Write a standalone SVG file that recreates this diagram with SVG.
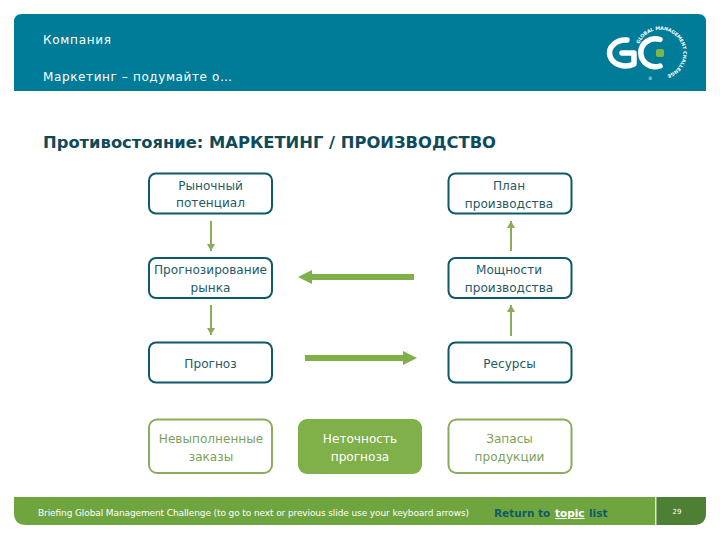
<svg xmlns="http://www.w3.org/2000/svg" width="720" height="540" viewBox="0 0 720 540">
<style>
text{font-family:"DejaVu Sans","Noto Sans",sans-serif}
.hd{font-size:12px;fill:#fff}
.nb{fill:#fff;stroke:#0f5a69;stroke-width:2}
.ng{fill:#fff;stroke:#8aac5c;stroke-width:2}
.t{font-size:12.100px;fill:#245a68;text-anchor:middle}
.tg{font-size:12.100px;fill:#7d9f5a;text-anchor:middle}
.tw{font-size:12.100px;fill:#fff;text-anchor:middle}
.thin{stroke:#8aac5c;stroke-width:2;fill:none;marker-end:url(#h)}
</style>
<defs>
<marker id="h" markerUnits="userSpaceOnUse" markerWidth="8" markerHeight="8" refX="7" refY="4" orient="auto"><path d="M0 0L7 4L0 8z" fill="#8aac5c"/></marker>
<path id="ring" d="M639 44A23 23 0 1 1 664 75.600"/>
</defs>
<g id="header">
<path d="M22 14H698Q706 14 706 22V91H14V22Q14 14 22 14z" fill="#007c98"/>
<text class="hd" x="43" y="44" textLength="68">Компания</text>
<text class="hd" x="43" y="81" textLength="189">Маркетинг – подумайте о…</text>
</g>
<g id="logo" fill="none" stroke="#fff" stroke-linecap="round">
<path d="M627 40A16 13 0 1 0 634 64V53H622" stroke-width="5.500" stroke-linejoin="round"/>
<path d="M660 39.500A14.500 14 0 1 0 660 66" stroke-width="5.500"/>
<rect x="656" y="49" width="8" height="8" rx="2" fill="#7ab648" stroke="none"/>
<text font-size="4.800" font-weight="bold" fill="#fff" stroke="none"><textPath href="#ring" textLength="92">GLOBAL MANAGEMENT CHALLENGE</textPath></text>
<text x="648" y="79.500" font-size="4.500" fill="#fff" stroke="none">®</text>
</g>
<text id="title" x="43" y="148" font-size="15px" font-weight="bold" fill="#0f4a5a" textLength="453" lengthAdjust="spacingAndGlyphs">Противостояние: МАРКЕТИНГ / ПРОИЗВОДСТВО</text>
<g id="connectors">
<path class="thin" d="M211 221V251"/>
<path class="thin" d="M211 305V335"/>
<path class="thin" d="M511 251V221"/>
<path class="thin" d="M511 336V305"/>
<path d="M414 274V280H312V284L298 277L312 270V274z" fill="#7fb04a"/>
<path d="M305 355H403V351L417 358L403 365V361H305z" fill="#7fb04a"/>
</g>
<g id="n1"><rect class="nb" x="149" y="173.500" width="123" height="40" rx="7"/><text class="t" x="210.500" y="190">Рыночный</text><text class="t" x="210.500" y="207">потенциал</text></g>
<g id="n2"><rect class="nb" x="448.500" y="173.500" width="123" height="40" rx="7"/><text class="t" x="509" y="190">План</text><text class="t" x="509" y="208">производства</text></g>
<g id="n3"><rect class="nb" x="149" y="258" width="123" height="40" rx="7"/><text class="t" x="210.500" y="274">Прогнозирование</text><text class="t" x="210.500" y="292">рынка</text></g>
<g id="n4"><rect class="nb" x="448.500" y="258" width="123" height="40" rx="7"/><text class="t" x="509" y="274">Мощности</text><text class="t" x="509" y="292">производства</text></g>
<g id="n5"><rect class="nb" x="149" y="342.500" width="123" height="40" rx="7"/><text class="t" x="210.500" y="368">Прогноз</text></g>
<g id="n6"><rect class="nb" x="448.500" y="342.500" width="123" height="40" rx="7"/><text class="t" x="509.500" y="368">Ресурсы</text></g>
<g id="n7"><rect class="ng" x="149" y="419.500" width="123" height="53.500" rx="8"/><text class="tg" x="211" y="443">Невыполненные</text><text class="tg" x="211" y="461">заказы</text></g>
<g id="n8"><rect x="298" y="419" width="124" height="55" rx="9" fill="#7fb04a"/><text class="tw" x="360" y="443">Неточность</text><text class="tw" x="360" y="461">прогноза</text></g>
<g id="n9"><rect class="ng" x="448.500" y="419.500" width="123" height="53.500" rx="8"/><text class="tg" x="509.500" y="443">Запасы</text><text class="tg" x="509.500" y="461">продукции</text></g>
<g id="footer">
<path d="M14 497H656V525H26Q14 525 14 513z" fill="#6fa53f"/>
<path d="M656 497H706V513Q706 525 694 525H656z" fill="#4d7f35"/>
<rect x="655" y="497" width="1.500" height="28" fill="#dbe8cc"/>
<text x="38" y="516" font-size="9px" fill="#fff" textLength="431" lengthAdjust="spacing">Briefing Global Management Challenge (to go to next or previous slide use your keyboard arrows)</text>
<text x="494" y="517" font-size="10.500px" font-weight="bold" fill="#0f5a69">Return to</text>
<text x="555" y="517" font-size="10.500px" font-weight="bold" fill="#fff" text-decoration="underline">topic</text>
<text x="589" y="517" font-size="10.500px" font-weight="bold" fill="#0f5a69">list</text>
<text x="677" y="514" font-size="7px" fill="#fff" text-anchor="middle">29</text>
</g>
</svg>
